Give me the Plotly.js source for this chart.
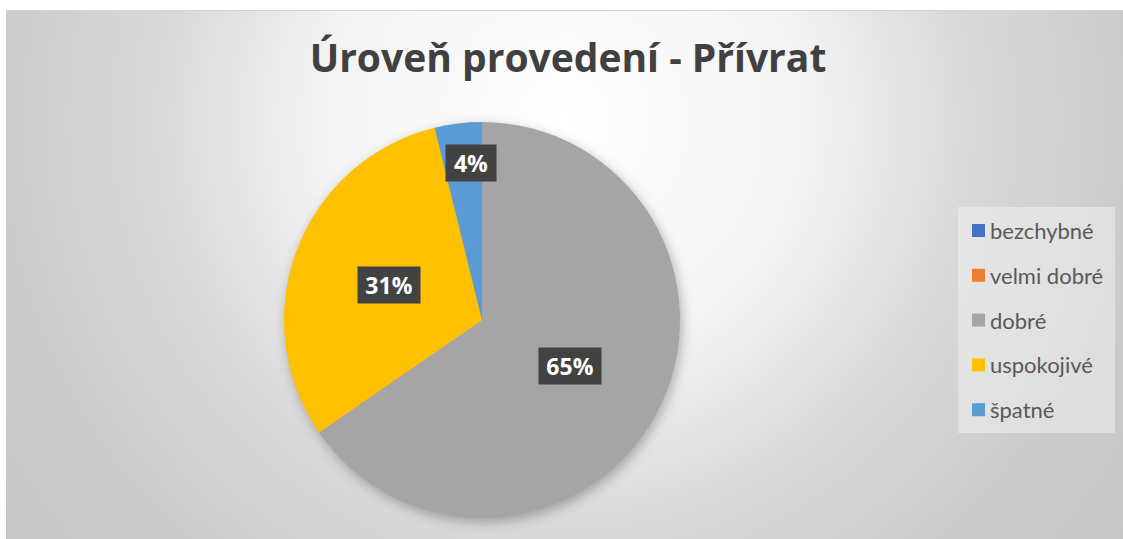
<!DOCTYPE html>
<html>
<head>
<meta charset="utf-8">
<script src="https://cdn.plot.ly/plotly-3.0.1.min.js"></script>
<style>
  html, body { margin: 0; padding: 0; background: #ffffff; }
  #wrap { position: relative; width: 1123px; height: 539px; overflow: hidden; }
  #bg { position: absolute; left: 6px; top: 10px; width: 1117px; height: 529px;
        border-top: 1px solid #d2d2d2;
        background: radial-gradient(circle farthest-corner at 558px 110px,
          #ffffff 0%, #f3f3f3 35%, #dadada 57%, #cbcbcb 82%, #c6c6c6 100%); }
  #chart { position: absolute; left: 0; top: 0; width: 1123px; height: 539px; }
  .pielayer .trace { filter: drop-shadow(2px 4px 6px rgba(0,0,0,0.28)); }
</style>
</head>
<body>
<div id="wrap"><div id="bg"></div><div id="chart"></div></div>
<script>
// ---- data ----
const chartTitle = 'Úroveň provedení - Přívrat';
const categories = ['bezchybné', 'velmi dobré', 'dobré', 'uspokojivé', 'špatné'];
const values = [0, 0, 17, 8, 1];
const colors = ['#4472C4', '#ED7D31', '#A5A5A5', '#FFC000', '#5B9BD5'];

// ---- layout geometry ----
const W = 1123, H = 539;
const cx = 482, cy = 320, R = 198;
const FONT = 'Lato, "Open Sans", sans-serif';
const BOLDFONT = '"Open Sans", Lato, sans-serif';

const total = values.reduce((a, b) => a + b, 0);
const annotations = [];
const shapes = [];

// data labels (computed from slice angles)
let cum = 0;
values.forEach((v, i) => {
  const frac = v / total;
  if (v > 0) {
    const mid = (cum + frac / 2) * 2 * Math.PI; // clockwise from 12 o'clock
    const d = (frac < 0.1 ? 0.8 : 0.5) * R;
    const px = cx + d * Math.sin(mid) + (frac < 0.1 ? 8 : 0);
    const py = cy - d * Math.cos(mid);
    const txt = Math.round(frac * 100) + '%';
    annotations.push({
      xref: 'paper', yref: 'paper', x: px / W, y: 1 - py / H,
      xanchor: 'center', yanchor: 'middle', showarrow: false,
      text: '<b>' + txt + '</b>',
      font: { family: BOLDFONT, size: 23, color: '#ffffff' },
      bgcolor: '#424242', borderpad: 6,
      width: 12 * txt.length + 14, height: 24
    });
  }
  cum += frac;
});

// custom legend
const lgX0 = 958, lgX1 = 1115, lgY0 = 207, lgY1 = 433;
shapes.push({ type: 'rect', xref: 'paper', yref: 'paper',
  x0: lgX0 / W, x1: lgX1 / W, y0: 1 - lgY1 / H, y1: 1 - lgY0 / H,
  fillcolor: 'rgba(246,246,246,0.45)', line: { width: 0 }, layer: 'below' });
categories.forEach((c, i) => {
  const yc = 230.5 + i * 44.8;
  shapes.push({ type: 'rect', xref: 'paper', yref: 'paper',
    x0: 972 / W, x1: 985 / W, y0: 1 - (yc + 6.5) / H, y1: 1 - (yc - 6.5) / H,
    fillcolor: colors[i], line: { width: 0 } });
  annotations.push({ xref: 'paper', yref: 'paper', x: 988 / W, y: 1 - yc / H,
    xanchor: 'left', yanchor: 'middle', showarrow: false, text: c,
    font: { family: FONT, size: 22, color: '#595959' } });
});

const trace = {
  type: 'pie',
  labels: categories,
  values: values,
  marker: { colors: colors, line: { width: 0 } },
  sort: false,
  direction: 'clockwise',
  rotation: 0,
  textinfo: 'none',
  hoverinfo: 'skip',
  showlegend: false,
  domain: { x: [(cx - R) / W, (cx + R) / W], y: [1 - (cy + R) / H, 1 - (cy - R) / H] }
};

const layout = {
  width: W, height: H,
  margin: { l: 0, r: 0, t: 0, b: 0 },
  paper_bgcolor: 'rgba(0,0,0,0)',
  plot_bgcolor: 'rgba(0,0,0,0)',
  showlegend: false,
  title: {
    text: '<b>' + chartTitle + '</b>',
    xref: 'paper', yref: 'paper', x: 568 / W, y: 1 - 58 / H,
    xanchor: 'center', yanchor: 'middle',
    font: { family: BOLDFONT, size: 39, color: '#404040' }
  },
  annotations: annotations,
  shapes: shapes
};

Plotly.newPlot('chart', [trace], layout, { staticPlot: true, displayModeBar: false });
</script>
</body>
</html>
